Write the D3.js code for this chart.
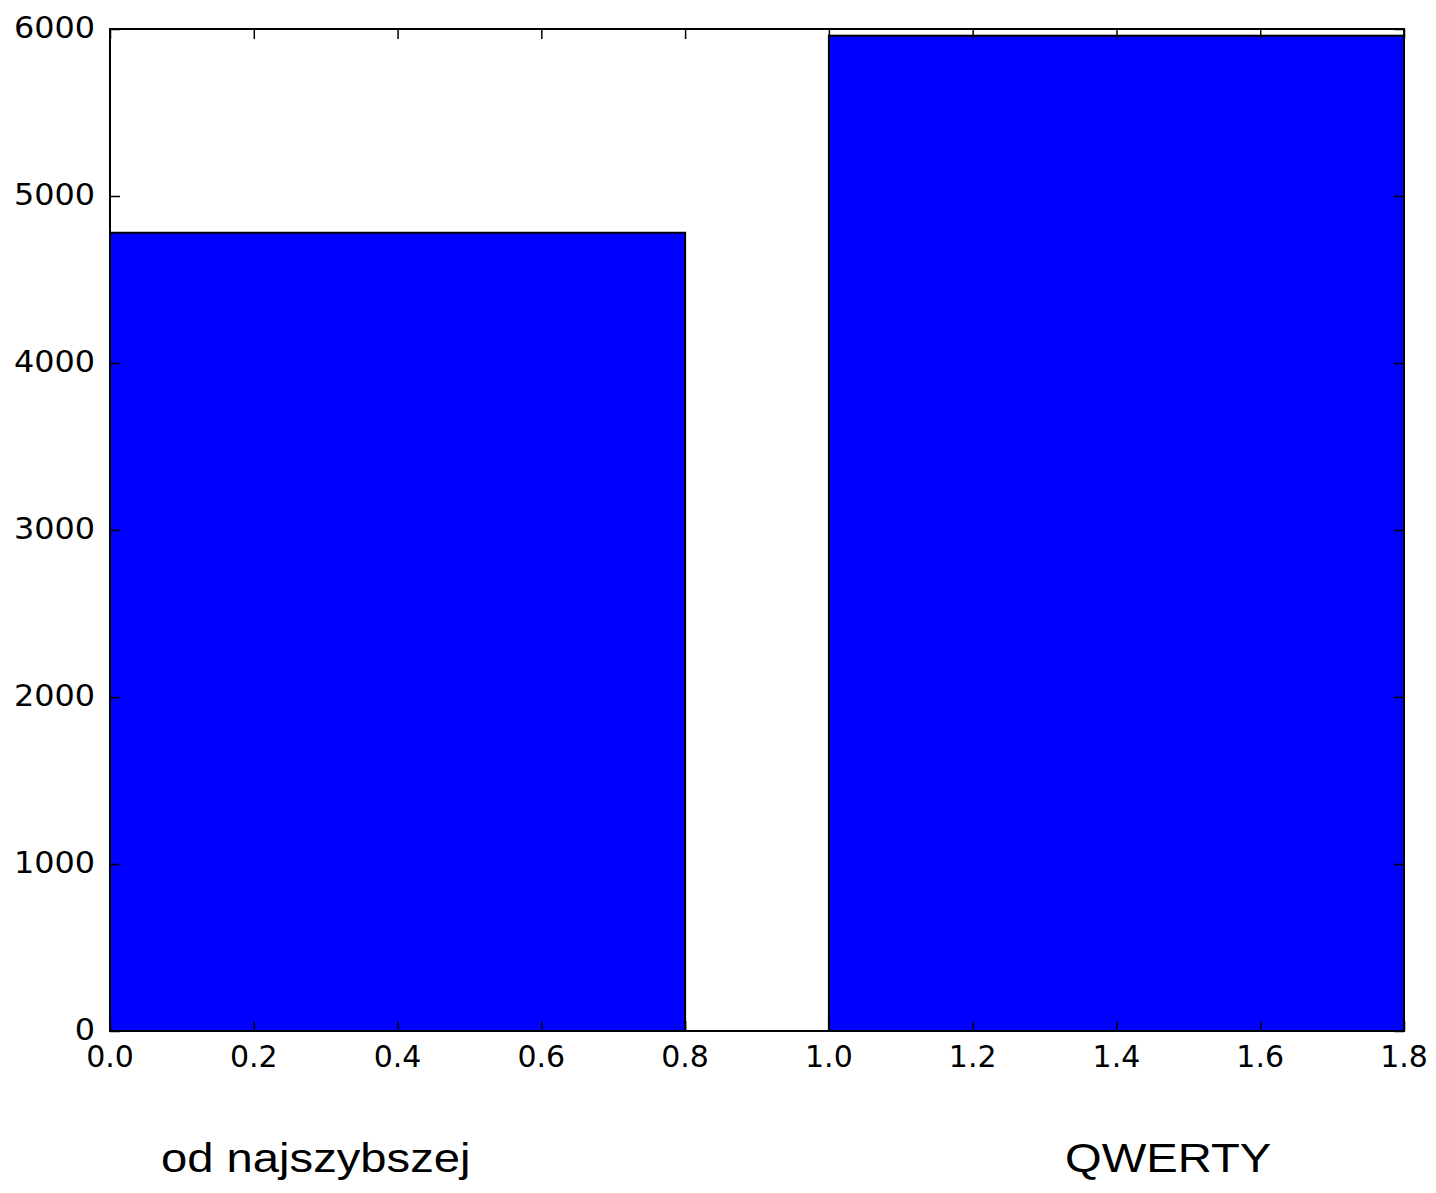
<!DOCTYPE html>
<html><head><meta charset="utf-8">
<script src="https://cdn.jsdelivr.net/npm/d3@7"></script>
<style>body{margin:0;background:#fff}</style>
</head><body>
<svg id="c" width="1436" height="1193"></svg>
<script>
const barStarts = [0.0, 1.0];
const barWidths = [0.8, 0.8];
const barValues = [4780, 5960];
const categories = ["od najszybszej", "QWERTY"];
const xTicks = [0.0, 0.2, 0.4, 0.6, 0.8, 1.0, 1.2, 1.4, 1.6, 1.8];
const yTicks = [0, 1000, 2000, 3000, 4000, 5000, 6000];

const L = 110, R = 1404, T = 29, B = 1031;
const svg = d3.select("#c");
const x = d3.scaleLinear().domain([0, 1.8]).range([L, R]);
const y = d3.scaleLinear().domain([0, 6000]).range([B, T]);

svg.selectAll("rect.bar").data(barValues).enter().append("rect")
  .attr("class","bar")
  .attr("x", (d,i)=>x(barStarts[i]))
  .attr("width", (d,i)=>x(barStarts[i]+barWidths[i])-x(barStarts[i]))
  .attr("y", d=>y(d))
  .attr("height", d=>y(0)-y(d))
  .attr("fill", "#0000ff").attr("stroke", "#000").attr("stroke-width", 2);

const tickLen = 10;
const fontTick = "DejaVu Sans";
const yl = svg.append("g").attr("transform", `translate(${L},0)`)
  .call(d3.axisRight(y).tickValues(yTicks).tickSize(tickLen).tickFormat(""));
const yr = svg.append("g").attr("transform", `translate(${R},0)`)
  .call(d3.axisLeft(y).tickValues(yTicks).tickSize(tickLen).tickFormat(""));
const xb = svg.append("g").attr("transform", `translate(0,${B})`)
  .call(d3.axisTop(x).tickValues(xTicks).tickSize(tickLen).tickFormat(""));
const xt = svg.append("g").attr("transform", `translate(0,${T})`)
  .call(d3.axisBottom(x).tickValues(xTicks).tickSize(tickLen).tickFormat(""));
[yl,yr,xb,xt].forEach(g=>{
  g.select(".domain").remove();
  g.selectAll("line").attr("stroke","#000").attr("stroke-width",1.5);
});

svg.append("rect").attr("x",L).attr("y",T).attr("width",R-L).attr("height",B-T)
  .attr("fill","none").attr("stroke","#000").attr("stroke-width",2);

// tick labels (source image is slightly stretched horizontally)
svg.append("g").selectAll("text").data(yTicks).enter().append("text")
  .attr("transform", d=>`translate(${L-15},${y(d)-2}) scale(1.08,1)`)
  .attr("dy","0.36em")
  .attr("text-anchor","end").attr("font-family",fontTick).attr("font-size",29.5)
  .attr("fill","#000").text(d=>d);
svg.append("g").selectAll("text").data(xTicks).enter().append("text")
  .attr("x", d=>x(d)).attr("y", B+14).attr("dy","0.73em")
  .attr("text-anchor","middle").attr("font-family",fontTick).attr("font-size",30)
  .attr("fill","#000").text(d=>d.toFixed(1));

// category labels
const catX = [161, 1065];
svg.append("g").selectAll("text").data(categories).enter().append("text")
  .attr("transform",(d,i)=>`translate(${catX[i]},1172) scale(1.18,1)`)
  .attr("font-family","Liberation Sans, Arial").attr("font-size",40)
  .attr("fill","#000").text(d=>d);
</script>
</body></html>
